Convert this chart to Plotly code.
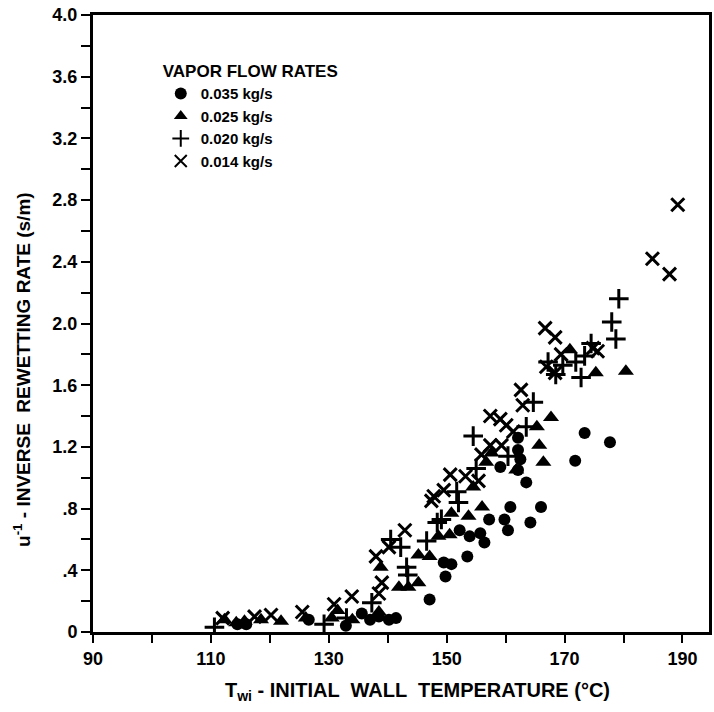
import plotly.graph_objects as go

# 0.035 kg/s (circles)
c035_x = [114.5,116.0,126.6,132.9,135.6,137.0,138.5,140.2,141.4,147.1,149.8,149.5,150.8,153.5,152.2,153.9,155.7,156.4,157.2,159.8,160.4,160.8,164.2,166.0,163.5,159.1,162.1,162.5,162.1,162.1,171.8,173.4,177.7]
c035_y = [0.05,0.05,0.08,0.04,0.12,0.08,0.10,0.08,0.09,0.21,0.36,0.45,0.44,0.49,0.66,0.62,0.64,0.58,0.73,0.73,0.66,0.81,0.71,0.81,0.97,1.07,1.05,1.12,1.18,1.26,1.11,1.29,1.23]

# 0.025 kg/s (triangles)
c025_x = [112.3,114.3,115.7,118.5,121.9,126.1,130.5,131.5,134.0,138.5,138.8,141.9,143.5,145.2,145.2,147.1,148.6,150.5,150.8,153.7,156.0,154.5,156.7,157.6,161.8,165.3,165.7,166.4,167.7,170.9,175.3,180.4]
c025_y = [0.08,0.06,0.07,0.08,0.07,0.09,0.09,0.14,0.08,0.13,0.42,0.29,0.29,0.32,0.50,0.49,0.62,0.63,0.77,0.75,0.81,0.94,1.10,1.16,1.05,1.33,1.21,1.10,1.39,1.83,1.68,1.69]

# 0.020 kg/s (plus)
c020_x = [110.6,129.2,133.0,137.3,140.5,142.2,143.2,143.4,146.6,148.4,149.1,151.7,152.0,155.0,154.5,160.4,163.5,164.7,167.2,168.5,169.7,171.9,172.8,173.4,174.5,178.7,178.0,179.2]
c020_y = [0.03,0.05,0.09,0.19,0.60,0.55,0.42,0.37,0.59,0.71,0.73,0.91,0.84,1.06,1.27,1.14,1.33,1.49,1.75,1.67,1.73,1.75,1.65,1.79,1.87,1.90,2.01,2.16]

# 0.014 kg/s (x)
c014_x = [112.0,117.4,120.2,125.5,130.9,133.9,138.5,139.0,138.0,140.2,142.9,147.4,147.8,149.5,150.6,153.2,155.4,155.9,157.4,159.3,157.4,159.1,160.1,161.3,162.6,162.9,166.7,168.4,169.4,166.9,168.4,174.8,175.6,184.9,187.8,189.2]
c014_y = [0.09,0.10,0.11,0.13,0.18,0.23,0.25,0.32,0.49,0.55,0.66,0.85,0.88,0.92,1.02,1.01,0.98,1.15,1.21,1.21,1.40,1.38,1.34,1.30,1.57,1.47,1.97,1.91,1.80,1.72,1.68,1.84,1.82,2.42,2.32,2.77]

series_names = ["0.035 kg/s", "0.025 kg/s", "0.020 kg/s", "0.014 kg/s"]

x_tickvals = [90,100,110,120,130,140,150,160,170,180,190]
x_ticktext = ["90","","110","","130","","150","","170","","190"]
y_tickvals = [0,0.2,0.4,0.6,0.8,1.0,1.2,1.4,1.6,1.8,2.0,2.2,2.4,2.6,2.8,3.0,3.2,3.4,3.6,3.8,4.0]
y_ticktext = ["0","",".4","",".8","","1.2","","1.6","","2.0","","2.4","","2.8","","3.2","","3.6","","4.0"]

fig = go.Figure()
fig.add_trace(go.Scatter(x=c035_x, y=c035_y, mode="markers", name=series_names[0],
                         marker=dict(symbol="circle", size=12, color="black")))
fig.add_trace(go.Scatter(x=c025_x, y=c025_y, mode="markers", name=series_names[1],
                         marker=dict(symbol="triangle-up", size=14, color="black")))
fig.add_trace(go.Scatter(x=c020_x, y=c020_y, mode="markers", name=series_names[2],
                         marker=dict(symbol="cross-thin", size=14, color="black",
                                     line=dict(width=3, color="black"))))
fig.add_trace(go.Scatter(x=c014_x, y=c014_y, mode="markers", name=series_names[3],
                         marker=dict(symbol="x-thin", size=13, color="black",
                                     line=dict(width=3, color="black"))))

tickfont = dict(family="Liberation Sans", size=18, color="black", weight="bold")
lfont = dict(family="Liberation Sans", size=15, color="black", weight="bold")

fig.update_layout(
    width=714, height=712,
    margin=dict(l=93, r=2, t=15, b=80),
    paper_bgcolor="white", plot_bgcolor="white",
    showlegend=True,
    legend=dict(x=0.11, y=0.935, xanchor="left", yanchor="top",
                bgcolor="rgba(0,0,0,0)",
                title=dict(text="VAPOR FLOW RATES", font=dict(family="Liberation Sans", size=17, color="black", weight="bold")),
                font=lfont, itemsizing="constant", tracegroupgap=0, itemwidth=30),
    xaxis=dict(range=[90, 194.5], tickvals=x_tickvals, ticktext=x_ticktext,
               ticks="outside", ticklen=8, tickwidth=2, tickcolor="black",
               showline=True, linewidth=3, linecolor="black", mirror=True,
               showgrid=False, zeroline=False, tickfont=tickfont),
    yaxis=dict(range=[0, 4.0], tickvals=y_tickvals, ticktext=y_ticktext,
               ticks="outside", ticklen=9, tickwidth=2, tickcolor="black",
               showline=True, linewidth=3, linecolor="black", mirror=True,
               showgrid=False, zeroline=False, tickfont=tickfont),
    annotations=[
        dict(text="u<sup>-1</sup> - INVERSE  REWETTING RATE (s/m)", xref="paper", yref="paper",
             x=-0.115, y=0.425, textangle=-90, showarrow=False, xanchor="center", yanchor="middle",
             font=dict(family="Liberation Sans", size=19, color="black", weight="bold")),
        dict(text="T<sub>wi</sub> - INITIAL  WALL  TEMPERATURE (°C)", xref="paper", yref="paper",
             x=0.527, y=-0.097, showarrow=False, xanchor="center", yanchor="middle",
             font=dict(family="Liberation Sans", size=20, color="black", weight="bold")),
    ],
)

fig.write_html("out.html")
